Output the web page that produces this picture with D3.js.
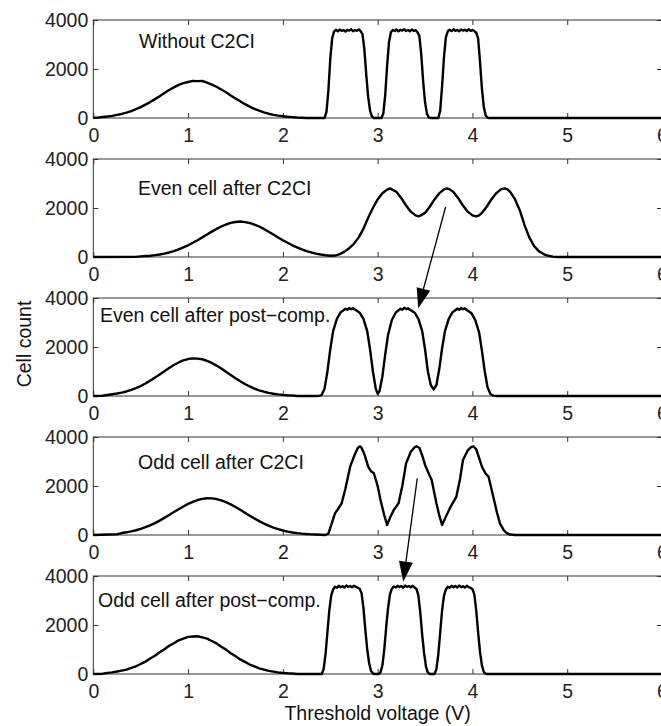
<!DOCTYPE html>
<html>
<head>
<meta charset="utf-8">
<title>Threshold voltage distributions</title>
<script src="https://d3js.org/d3.v7.min.js"></script>
<style>
  body { margin: 0; background: #fff; }
  svg { font-family: "Liberation Sans", Arial, sans-serif; }
</style>
</head>
<body>
<svg id="chart" width="661" height="726"></svg>
<script>
// ---- data (threshold voltage in V, cell count) ----
var withoutVolt = [0, 0.05, 0.1, 0.15, 0.2, 0.25, 0.3, 0.35, 0.4, 0.45, 0.5, 0.55, 0.6, 0.65, 0.7, 0.75, 0.8, 0.85, 0.9, 0.95, 1.0, 1.05, 1.1, 1.15, 1.2, 1.25, 1.3, 1.35, 1.4, 1.45, 1.5, 1.55, 1.6, 1.65, 1.7, 1.75, 1.8, 1.85, 1.9, 1.95, 2.0, 2.05, 2.1, 2.15, 2.2, 2.25,
  2.44, 2.46, 2.48, 2.5, 2.52, 2.54, 2.56, 2.58, 2.6, 2.62, 2.64, 2.66, 2.68, 2.7, 2.72, 2.74, 2.76, 2.78, 2.8, 2.82, 2.84, 2.86, 2.88, 2.9, 2.92, 2.94, 2.96,
  3.04, 3.06, 3.08, 3.1, 3.12, 3.14, 3.16, 3.18, 3.2, 3.22, 3.24, 3.26, 3.28, 3.3, 3.32, 3.34, 3.36, 3.38, 3.4, 3.42, 3.44, 3.46, 3.48, 3.5, 3.52, 3.54, 3.56,
  3.64, 3.66, 3.68, 3.7, 3.72, 3.74, 3.76, 3.78, 3.8, 3.82, 3.84, 3.86, 3.88, 3.9, 3.92, 3.94, 3.96, 3.98, 4.0, 4.02, 4.04, 4.06, 4.08, 4.1, 4.12, 4.14, 4.16, 4.18, 6];
var withoutCount = [10, 15, 40, 60, 85, 125, 165, 220, 280, 360, 445, 545, 650, 770, 890, 1020, 1140, 1250, 1350, 1420, 1470, 1515, 1505, 1510, 1445, 1365, 1275, 1165, 1050, 920, 800, 680, 565, 465, 375, 300, 230, 175, 130, 95, 70, 50, 35, 20, 12, 0,
  0, 250, 1100, 2400, 3250, 3530, 3600, 3540, 3610, 3560, 3590, 3530, 3600, 3570, 3620, 3540, 3590, 3560, 3610, 3550, 3420, 2800, 1750, 850, 300, 60, 0,
  0, 180, 950, 2150, 3100, 3500, 3590, 3550, 3610, 3540, 3600, 3570, 3620, 3550, 3590, 3540, 3610, 3560, 3590, 3500, 3350, 2600, 1500, 650, 170, 20, 0,
  0, 300, 1300, 2500, 3300, 3540, 3600, 3550, 3620, 3560, 3590, 3540, 3610, 3570, 3600, 3550, 3620, 3560, 3590, 3550, 3480, 3250, 2300, 1200, 450, 100, 10, 0, 0];

var evenC2ciVolt = [0, 0.45, 0.5, 0.55, 0.6, 0.65, 0.7, 0.75, 0.8, 0.85, 0.9, 0.95, 1.0, 1.05, 1.1, 1.15, 1.2, 1.25, 1.3, 1.35, 1.4, 1.45, 1.5, 1.55, 1.6, 1.65, 1.7, 1.75, 1.8, 1.85, 1.9, 1.95, 2.0, 2.05, 2.1, 2.15, 2.2, 2.25, 2.3, 2.35, 2.4, 2.45, 2.5,
  2.55, 2.6, 2.65, 2.7, 2.75, 2.8, 2.85, 2.9, 2.95, 3.0, 3.05, 3.1, 3.13, 3.15, 3.2, 3.25, 3.3, 3.35, 3.4, 3.43, 3.45, 3.5, 3.55, 3.6, 3.65, 3.7, 3.73, 3.76, 3.8, 3.85, 3.9, 3.95, 4.0, 4.04, 4.07, 4.1, 4.15, 4.2, 4.25, 4.3, 4.34, 4.37, 4.4, 4.45, 4.5, 4.55, 4.6, 4.65, 4.7, 4.75, 4.8, 4.85, 4.9, 6];
var evenC2ciCount = [0, 5, 26, 38, 53, 75, 103, 140, 185, 240, 308, 390, 478, 580, 686, 800, 918, 1035, 1146, 1245, 1326, 1390, 1427, 1450, 1425, 1390, 1320, 1245, 1146, 1030, 918, 800, 686, 580, 478, 390, 308, 240, 185, 140, 100, 70, 50,
  60, 120, 220, 360, 540, 800, 1150, 1600, 2000, 2350, 2600, 2750, 2800, 2760, 2650, 2400, 2100, 1850, 1700, 1660, 1690, 1800, 2050, 2350, 2600, 2760, 2800, 2760, 2650, 2400, 2100, 1850, 1700, 1660, 1700, 1800, 2050, 2350, 2600, 2760, 2800, 2760, 2650, 2350, 1900, 1300, 800, 450, 240, 120, 50, 15, 0, 0];

var evenPostVolt = [0, 0.1, 0.15, 0.2, 0.25, 0.3, 0.35, 0.4, 0.45, 0.5, 0.55, 0.6, 0.65, 0.7, 0.75, 0.8, 0.85, 0.9, 0.95, 1.0, 1.05, 1.1, 1.15, 1.2, 1.25, 1.3, 1.35, 1.4, 1.45, 1.5, 1.55, 1.6, 1.65, 1.7, 1.75, 1.8, 1.85, 1.9, 1.95, 2.0, 2.05, 2.1, 2.15,
  2.35, 2.39, 2.41, 2.44, 2.47, 2.5, 2.53, 2.57, 2.61, 2.64, 2.66, 2.68, 2.7, 2.72, 2.74, 2.76, 2.78, 2.81, 2.85, 2.89, 2.92, 2.95, 2.98, 3.0,
  3.02, 3.05, 3.08, 3.11, 3.15, 3.19, 3.22, 3.24, 3.26, 3.28, 3.3, 3.32, 3.34, 3.36, 3.39, 3.43, 3.47, 3.5, 3.53, 3.56, 3.59,
  3.62, 3.65, 3.68, 3.71, 3.75, 3.79, 3.82, 3.84, 3.86, 3.88, 3.9, 3.92, 3.94, 3.96, 3.99, 4.03, 4.07, 4.1, 4.13, 4.16, 4.19, 4.22, 4.26, 6];
var evenPostCount = [0, 10, 40, 70, 100, 137, 185, 247, 320, 408, 511, 627, 750, 880, 1014, 1144, 1264, 1369, 1452, 1509, 1537, 1525, 1500, 1437, 1350, 1241, 1118, 987, 854, 724, 602, 490, 390, 305, 233, 175, 128, 92, 65, 45, 30, 20, 0,
  0, 10, 50, 300, 1000, 1900, 2650, 3150, 3420, 3500, 3560, 3520, 3590, 3540, 3580, 3530, 3480, 3400, 3150, 2650, 1900, 1000, 300, 90,
  200, 800, 1700, 2500, 3100, 3400, 3500, 3560, 3520, 3600, 3550, 3580, 3520, 3480, 3400, 3150, 2650, 1900, 1000, 450, 270,
  450, 1100, 1950, 2650, 3150, 3420, 3500, 3570, 3520, 3590, 3540, 3580, 3510, 3460, 3380, 3100, 2600, 1850, 1000, 350, 80, 15, 0, 0];

var oddC2ciVolt = [0, 0.25, 0.3, 0.35, 0.4, 0.45, 0.5, 0.55, 0.6, 0.65, 0.7, 0.75, 0.8, 0.85, 0.9, 0.95, 1.0, 1.05, 1.1, 1.15, 1.2, 1.25, 1.3, 1.35, 1.4, 1.45, 1.5, 1.55, 1.6, 1.65, 1.7, 1.75, 1.8, 1.85, 1.9, 1.95, 2.0, 2.05, 2.1, 2.15, 2.2, 2.25, 2.3, 2.35, 2.4, 2.45,
  2.48, 2.51, 2.55, 2.58, 2.62, 2.66, 2.71, 2.76, 2.79, 2.81, 2.83, 2.86, 2.9, 2.93, 2.96, 3.0, 3.03, 3.07, 3.1,
  3.13, 3.17, 3.22, 3.26, 3.3, 3.35, 3.39, 3.41, 3.44, 3.47, 3.5, 3.54, 3.57, 3.62, 3.65, 3.68,
  3.72, 3.77, 3.83, 3.87, 3.9, 3.95, 3.99, 4.01, 4.04, 4.07, 4.1, 4.14, 4.17, 4.22, 4.26, 4.29, 4.33, 4.36, 4.4, 4.45, 6];
var oddC2ciCount = [0, 30, 80, 110, 146, 195, 250, 320, 396, 485, 588, 700, 815, 935, 1052, 1165, 1268, 1355, 1427, 1475, 1498, 1495, 1467, 1415, 1341, 1250, 1144, 1030, 910, 790, 675, 565, 468, 380, 303, 240, 184, 140, 103, 75, 54, 38, 27, 18, 10, 0,
  60, 400, 885, 1050, 1290, 1900, 2790, 3300, 3550, 3620, 3560, 3300, 2790, 2600, 2520, 2000, 1430, 800, 410,
  700, 1020, 1290, 2000, 2925, 3400, 3580, 3620, 3560, 3250, 2860, 2500, 2245, 1300, 800, 410,
  750, 1155, 1560, 2300, 3060, 3450, 3600, 3620, 3500, 3150, 2790, 2500, 2380, 1560, 900, 475, 200, 80, 20, 0, 0];

var oddPostVolt = [0, 0.1, 0.15, 0.2, 0.25, 0.3, 0.35, 0.4, 0.45, 0.5, 0.55, 0.6, 0.65, 0.7, 0.75, 0.8, 0.85, 0.9, 0.95, 1.0, 1.05, 1.1, 1.15, 1.2, 1.25, 1.3, 1.35, 1.4, 1.45, 1.5, 1.55, 1.6, 1.65, 1.7, 1.75, 1.8, 1.85, 1.9, 1.95, 2.0, 2.05, 2.1, 2.15,
  2.41, 2.43, 2.45, 2.47, 2.49, 2.51, 2.53, 2.55, 2.57, 2.59, 2.61, 2.63, 2.65, 2.67, 2.69, 2.71, 2.73, 2.75, 2.77, 2.79, 2.81, 2.83, 2.85, 2.87, 2.89, 2.91, 2.93, 2.95, 2.97,
  3.01, 3.03, 3.05, 3.07, 3.09, 3.11, 3.13, 3.15, 3.17, 3.19, 3.21, 3.23, 3.25, 3.27, 3.29, 3.31, 3.33, 3.35, 3.37, 3.39, 3.41, 3.43, 3.45, 3.47, 3.49, 3.51, 3.53, 3.55,
  3.6, 3.62, 3.64, 3.66, 3.68, 3.7, 3.72, 3.74, 3.76, 3.78, 3.8, 3.82, 3.84, 3.86, 3.88, 3.9, 3.92, 3.94, 3.96, 3.98, 4.0, 4.02, 4.04, 4.06, 4.08, 4.1, 4.12, 4.14, 4.16, 6];
var oddPostCount = [0, 10, 45, 65, 100, 140, 180, 250, 315, 410, 505, 630, 745, 885, 1010, 1150, 1255, 1375, 1445, 1515, 1530, 1540, 1495, 1445, 1345, 1250, 1110, 995, 850, 730, 595, 495, 385, 310, 228, 180, 125, 95, 60, 48, 28, 18, 0,
  0, 200, 800, 1700, 2600, 3200, 3450, 3560, 3520, 3600, 3540, 3580, 3530, 3610, 3550, 3590, 3540, 3600, 3560, 3520, 3480, 3300, 2700, 1800, 1000, 450, 120, 20, 0,
  0, 60, 350, 1000, 1900, 2700, 3250, 3480, 3570, 3530, 3600, 3550, 3590, 3520, 3610, 3560, 3590, 3540, 3600, 3530, 3470, 3200, 2500, 1600, 850, 300, 60, 0,
  0, 200, 800, 1700, 2600, 3200, 3450, 3560, 3520, 3600, 3540, 3590, 3530, 3610, 3550, 3580, 3530, 3600, 3550, 3520, 3460, 3250, 2600, 1700, 900, 350, 80, 10, 0, 0];

var panelTitles = ["Without C2CI", "Even cell after C2CI", "Even cell after post\u2212comp.", "Odd cell after C2CI", "Odd cell after post\u2212comp."];
var xTicks = [0, 1, 2, 3, 4, 5, 6];
var yTicks = [0, 2000, 4000];
// arrows: [from panel, volt, count] -> [to panel, volt, count]
var arrowFrom = [[1, 3.717, 2040], [3, 3.418, 2310]];
var arrowTo = [[2, 3.428, 3580], [4, 3.27, 3770]];

var series = [
  { volt: withoutVolt, count: withoutCount },
  { volt: evenC2ciVolt, count: evenC2ciCount },
  { volt: evenPostVolt, count: evenPostCount },
  { volt: oddC2ciVolt, count: oddC2ciCount },
  { volt: oddPostVolt, count: oddPostCount }
];

// ---- layout ----
var panelTop = 20, panelH = 98, panelStep = 139;
var titlePos = [[139, 28], [138, 36], [100, 24], [138, 32], [98, 31]];
var fontSize = "19.5px";
var frameColor = "#333";

var svg = d3.select("#chart");
var x = d3.scaleLinear().domain([0, 6]).range([93.3, 662]);
var yScales = [];

series.forEach(function (s, i) {
  var top = panelTop + i * panelStep;
  var y = d3.scaleLinear().domain([0, 4000]).range([top + panelH, top]);
  yScales.push(y);
  var g = svg.append("g").attr("class", "panel");

  var noLabel = function () { return ""; };

  g.append("g").attr("transform", "translate(0," + (top + panelH) + ")")
    .call(d3.axisBottom(x).tickValues(xTicks).tickSize(-5).tickPadding(10).tickFormat(d3.format("d")));
  g.append("g").attr("transform", "translate(0," + top + ")")
    .call(d3.axisTop(x).tickValues(xTicks).tickSize(-5).tickFormat(noLabel));
  g.append("g").attr("transform", "translate(" + x(0) + ",0)")
    .call(d3.axisLeft(y).tickValues(yTicks).tickSize(-5).tickPadding(5).tickFormat(d3.format("d")));
  g.append("g").attr("transform", "translate(" + x(6) + ",0)")
    .call(d3.axisRight(y).tickValues(yTicks).tickSize(-5).tickFormat(noLabel));

  g.selectAll(".domain").remove();
  g.selectAll(".tick line").attr("stroke", frameColor);
  g.selectAll(".tick text").attr("fill", "#222").style("font-size", fontSize)
    .style("font-family", "'Liberation Sans', Arial, sans-serif");

  g.append("rect")
    .attr("x", x(0)).attr("y", top)
    .attr("width", x(6) - x(0)).attr("height", panelH)
    .attr("fill", "none").attr("stroke", frameColor).attr("stroke-width", 1);

  var line = d3.line().x(function (d) { return x(d[0]); }).y(function (d) { return y(d[1]); });
  g.append("path")
    .datum(d3.zip(s.volt, s.count))
    .attr("d", line)
    .attr("fill", "none")
    .attr("stroke", "#000")
    .attr("stroke-width", 2.4)
    .attr("stroke-linejoin", "round");

  g.append("text")
    .attr("x", titlePos[i][0]).attr("y", top + titlePos[i][1])
    .attr("fill", "#111").style("font-size", fontSize)
    .text(panelTitles[i]);
});

// arrows between panels
arrowFrom.forEach(function (a, i) {
  var b = arrowTo[i];
  var x1 = x(a[1]), y1 = yScales[a[0]](a[2]);
  var x2 = x(b[1]), y2 = yScales[b[0]](b[2]);
  var ang = Math.atan2(y2 - y1, x2 - x1);
  var headL = 20, headW = 7;
  var bx = x2 - headL * Math.cos(ang), by = y2 - headL * Math.sin(ang);
  svg.append("line")
    .attr("x1", x1).attr("y1", y1).attr("x2", bx).attr("y2", by)
    .attr("stroke", "#000").attr("stroke-width", 1.3);
  var px = -Math.sin(ang) * headW, py = Math.cos(ang) * headW;
  svg.append("path")
    .attr("d", "M" + x2 + "," + y2 + "L" + (bx + px) + "," + (by + py) + "L" + (bx - px) + "," + (by - py) + "Z")
    .attr("fill", "#000");
});

// axis titles
svg.append("text")
  .attr("transform", "translate(31,344) rotate(-90)")
  .attr("text-anchor", "middle")
  .attr("fill", "#111").style("font-size", fontSize)
  .text("Cell count");

svg.append("text")
  .attr("x", (x(0) + x(6)) / 2).attr("y", 720)
  .attr("text-anchor", "middle")
  .attr("fill", "#111").style("font-size", fontSize)
  .text("Threshold voltage (V)");
</script>
</body>
</html>
